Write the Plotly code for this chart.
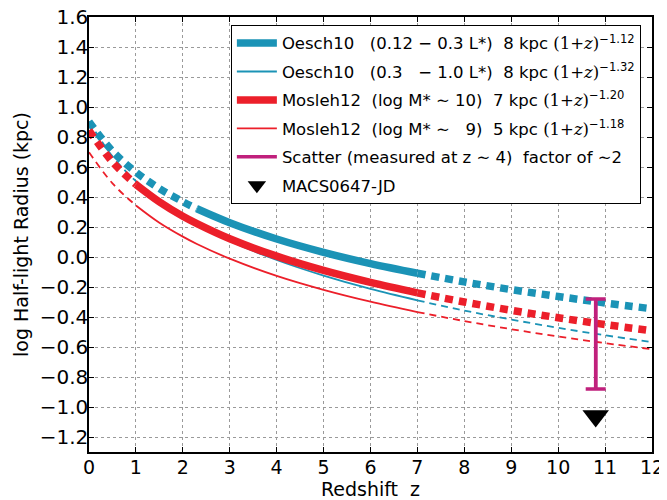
import plotly.graph_objects as go

# ---------------- data ----------------
z = [0, 0.5, 1, 1.5, 2, 2.3, 3, 4, 5, 6, 7, 8, 9, 10, 11, 12]
oesch_faint = [0.903, 0.706, 0.566, 0.457, 0.369, 0.322, 0.229, 0.120, 0.031, -0.044,
               -0.108, -0.166, -0.217, -0.263, -0.306, -0.345]
oesch_bright = [0.903, 0.671, 0.506, 0.378, 0.273, 0.219, 0.108, -0.020, -0.124, -0.213,
                -0.289, -0.357, -0.417, -0.472, -0.522, -0.567]
mosleh_hi = [0.845, 0.634, 0.484, 0.368, 0.272, 0.223, 0.122, 0.006, -0.089, -0.169,
             -0.239, -0.300, -0.355, -0.405, -0.450, -0.492]
mosleh_lo = [0.699, 0.491, 0.344, 0.229, 0.136, 0.087, -0.011, -0.126, -0.219, -0.298,
             -0.367, -0.427, -0.481, -0.530, -0.574, -0.615]

oesch_range = [2.3, 7]    # measured redshift range (solid)
mosleh_range = [1, 7]

scatter_z = [10.8]
scatter_top = [-0.28]
scatter_bottom = [-0.88]

macs_z = [10.8]
macs_r = [-1.06]

SERIF = "<span style='font-family:DejaVu Serif'>(1+<i>z</i>)</span>"
legend_labels = [
    "Oesch10\u00a0\u00a0\u00a0(0.12 \u2212 0.3 L*)\u00a0\u00a08 kpc " + SERIF + "<sup>\u22121.12</sup>",
    "Oesch10\u00a0\u00a0\u00a0(0.3\u00a0\u00a0\u00a0\u2212 1.0 L*)\u00a0\u00a08 kpc " + SERIF + "<sup>\u22121.32</sup>",
    "Mosleh12\u00a0\u00a0(log M* \u223c 10)\u00a0\u00a07 kpc " + SERIF + "<sup>\u22121.20</sup>",
    "Mosleh12\u00a0\u00a0(log M* \u223c\u00a0\u00a0\u00a09)\u00a0\u00a05 kpc " + SERIF + "<sup>\u22121.18</sup>",
    "Scatter (measured at z \u223c 4)\u00a0\u00a0factor of \u223c2",
    "MACS0647-JD",
]

x_ticks = list(range(0, 13))
y_ticks = [-1.2, -1.0, -0.8, -0.6, -0.4, -0.2, 0.0, 0.2, 0.4, 0.6, 0.8, 1.0, 1.2, 1.4, 1.6]
y_ticktext = ["\u22121.2", "\u22121.0", "\u22120.8", "\u22120.6", "\u22120.4", "\u22120.2",
              "0.0", "0.2", "0.4", "0.6", "0.8", "1.0", "1.2", "1.4", "1.6"]

BLUE = "#1b93b6"
RED = "#ec1f2a"
MAGENTA = "#c0207c"

fig = go.Figure()


def segments(vals, rng):
    lo = [(zz, v) for zz, v in zip(z, vals) if zz <= rng[0]]
    mid = [(zz, v) for zz, v in zip(z, vals) if rng[0] <= zz <= rng[1]]
    hi = [(zz, v) for zz, v in zip(z, vals) if zz >= rng[1]]
    return lo, mid, hi


def add_relation(vals, rng, color, width, dash, label, group):
    lo, mid, hi = segments(vals, rng)
    for seg, d, show in ((mid, "solid", True), (lo, dash, False), (hi, dash, False)):
        fig.add_trace(go.Scatter(
            x=[p[0] for p in seg], y=[p[1] for p in seg], mode="lines",
            line=dict(color=color, width=width, dash=d, shape="spline"),
            name=label, legendgroup=group, showlegend=show, hoverinfo="skip"))


THICK_DOT = "8px,6px"
THIN_DASH = "7px,5px"
add_relation(oesch_faint, oesch_range, BLUE, 7.5, THICK_DOT, legend_labels[0], "g1")
add_relation(oesch_bright, oesch_range, BLUE, 1.8, THIN_DASH, legend_labels[1], "g2")
add_relation(mosleh_hi, mosleh_range, RED, 7.5, THICK_DOT, legend_labels[2], "g3")
add_relation(mosleh_lo, mosleh_range, RED, 1.8, THIN_DASH, legend_labels[3], "g4")

# scatter bar
fig.add_trace(go.Scatter(
    x=scatter_z * 2, y=[scatter_top[0], scatter_bottom[0]], mode="lines",
    line=dict(color=MAGENTA, width=3.5), name=legend_labels[4], legendgroup="g5",
    hoverinfo="skip"))
fig.add_trace(go.Scatter(
    x=scatter_z, y=[(scatter_top[0] + scatter_bottom[0]) / 2], mode="markers",
    marker=dict(size=1, opacity=0),
    error_y=dict(type="data", symmetric=True,
                 array=[(scatter_top[0] - scatter_bottom[0]) / 2],
                 color=MAGENTA, thickness=3.5, width=10),
    showlegend=False, legendgroup="g5", hoverinfo="skip"))

# MACS0647-JD
fig.add_trace(go.Scatter(
    x=macs_z, y=macs_r, mode="markers",
    marker=dict(symbol="triangle-down", size=23, color="black"),
    name=legend_labels[5], legendgroup="g6", hoverinfo="skip"))

axis_common = dict(
    showline=True, linecolor="black", linewidth=1.5, mirror="ticks",
    ticks="inside", ticklen=5, tickwidth=1, tickcolor="black",
    showgrid=True, gridcolor="#9a9a9a", gridwidth=1, griddash="dot",
    zeroline=False, ticklabeloverflow="allow",
)

fig.update_xaxes(range=[0, 12], tickvals=x_ticks, ticklabelstandoff=-3,
                 tickfont=dict(family="DejaVu Sans", size=19, color="black"),
                 title=dict(text="Redshift\u00a0\u00a0z",
                            font=dict(family="DejaVu Sans", size=19, color="black"),
                            standoff=5),
                 **axis_common)
fig.update_yaxes(range=[-1.3, 1.6005], tickvals=y_ticks, ticktext=y_ticktext,
                 ticklabelstandoff=-5,
                 tickfont=dict(family="DejaVu Sans", size=20, color="black"),
                 title=dict(text="log Half-light Radius (kpc)",
                            font=dict(family="DejaVu Sans", size=19, color="black"), standoff=6),
                 **axis_common)

# the page body has an 8px margin: shrink the figure so it fits the 667x500 window
fig.update_layout(
    width=659, height=492,
    margin=dict(l=81, r=15, t=9, b=48, autoexpand=False),
    paper_bgcolor="white", plot_bgcolor="white",
    font=dict(family="DejaVu Sans", color="black"),
    legend=dict(x=0.252, y=0.982, xanchor="left", yanchor="top",
                bgcolor="white", bordercolor="black", borderwidth=1,
                font=dict(family="DejaVu Sans", size=16.5, color="black"),
                tracegroupgap=4, itemsizing="trace", itemwidth=40),
    showlegend=True,
)

fig.write_html("out.html")
